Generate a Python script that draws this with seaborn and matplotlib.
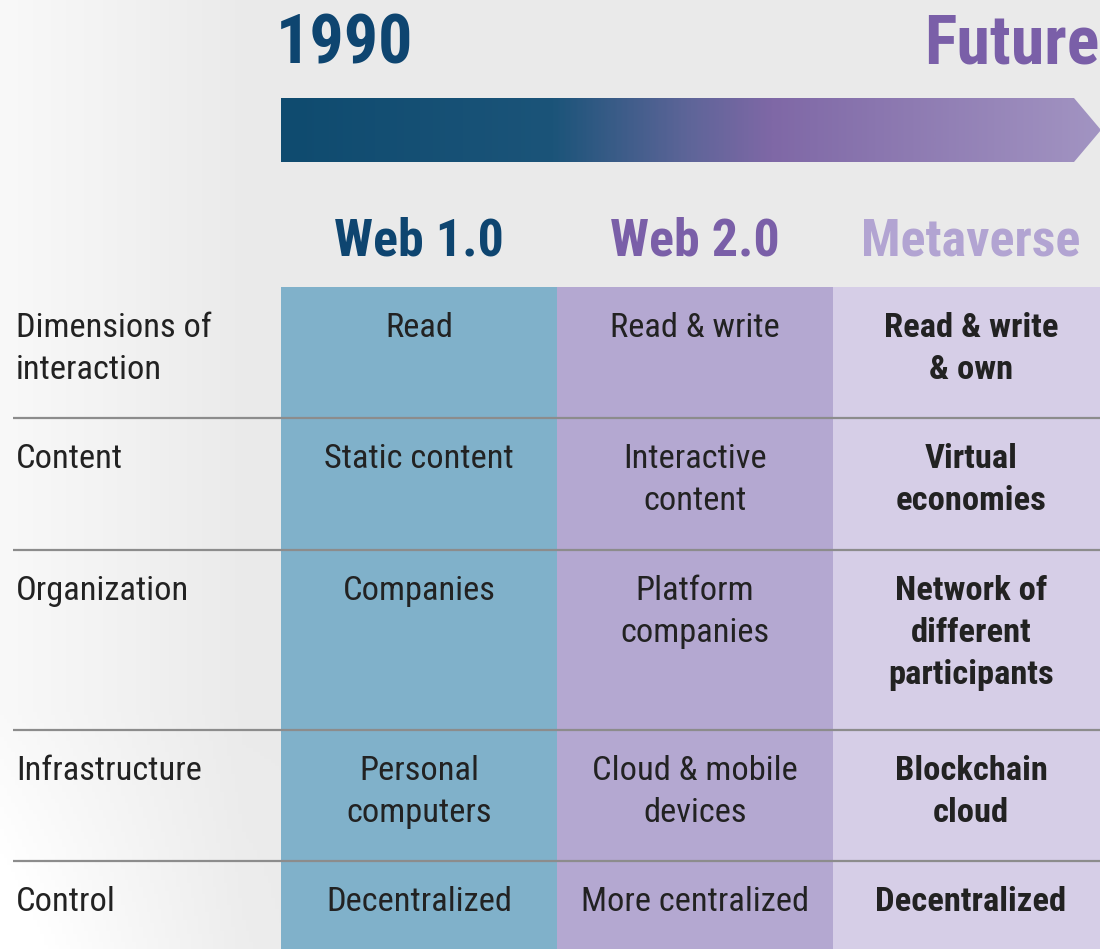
import numpy as np
import pandas as pd
import matplotlib
matplotlib.use("Agg")
import matplotlib.pyplot as plt
from matplotlib.colors import LinearSegmentedColormap
from matplotlib.patches import Polygon
from matplotlib import font_manager
import seaborn as sns

# table content
eras = ["Web 1.0", "Web 2.0", "Metaverse"]
era_colors = ["#80b1ca", "#b4a8d1", "#d6cee7"]
header_colors = ["#0e4570", "#7a5fa8", "#b2a4d2"]
row_labels = ["Dimensions of\ninteraction", "Content", "Organization", "Infrastructure", "Control"]
web1 = ["Read", "Static content", "Companies", "Personal\ncomputers", "Decentralized"]
web2 = ["Read & write", "Interactive\ncontent", "Platform\ncompanies", "Cloud & mobile\ndevices", "More centralized"]
meta = ["Read & write\n& own", "Virtual\neconomies", "Network of\ndifferent\nparticipants", "Blockchain\ncloud", "Decentralized"]
start_label = "1990"
end_label = "Future"

W, H = 1100, 949
ROW_TOPS = [287, 418, 550, 730, 861]
COL_LEFT, COL_W = 281, 276
LINE_PITCH = 42
TEXT = "#222222"

installed = {f.name for f in font_manager.fontManager.ttflist}
FONTS = [f for f in ["Roboto Condensed", "Liberation Sans Narrow", "Roboto"] if f in installed] + ["DejaVu Sans"]

sns.set_theme(style="white")
plt.rcParams["font.family"] = FONTS

fig = plt.figure(figsize=(W / 100, H / 100), dpi=100)

# background: light grey fading to white on the left and bottom-left
bg = fig.add_axes([0, 0, 1, 1])
xx = np.linspace(0, 1, 300)
yy = np.linspace(0, 1, 260)
gx, gy = np.meshgrid(xx, yy)
fade = np.clip(1 - gx / 0.22, 0, 1) * 0.7 + np.clip((gy - 0.75) / 0.25, 0, 1) * np.clip(1 - gx / 0.3, 0, 1) * 0.5
val = 0.92 + 0.08 * np.clip(fade, 0, 1)
bg.imshow(np.dstack([val, val, val]), extent=[0, W, H, 0], aspect="auto")
bg.set_xlim(0, W)
bg.set_ylim(H, 0)
bg.axis("off")

# era columns drawn as bars
bar_ax = fig.add_axes([COL_LEFT / W, 0, 3 * COL_W / W, (H - ROW_TOPS[0]) / H])
df = pd.DataFrame({"era": eras, "h": [1, 1, 1]})
sns.barplot(data=df, x="era", y="h", hue="era", palette=era_colors, width=1.0,
            legend=False, ax=bar_ax, linewidth=0, saturation=1)
bar_ax.set_xlim(-0.5, 2.5)
bar_ax.set_ylim(0, 1)
bar_ax.axis("off")

# overlay in pixel coordinates
ax = fig.add_axes([0, 0, 1, 1])
ax.set_xlim(0, W)
ax.set_ylim(H, 0)
ax.axis("off")
ax.patch.set_alpha(0)

# timeline arrow with gradient
arrow = Polygon([(281, 98), (1074, 98), (1101, 130), (1074, 162), (281, 162)],
                closed=True, facecolor="none", edgecolor="none")
ax.add_patch(arrow)
cmap = LinearSegmentedColormap.from_list(
    "tl", [(0, "#0f4b6f"), (0.33, "#1b5479"), (0.5, "#5f6599"), (0.6, "#7f68a6"), (1, "#a294c2")])
grad = ax.imshow(np.linspace(0, 1, 400)[None, :], cmap=cmap, extent=[281, 1101, 162, 98], aspect="auto")
grad.set_clip_path(arrow)
ax.set_xlim(0, W)
ax.set_ylim(H, 0)

ax.text(276, 63, start_label, fontsize=49, fontweight="bold", color=header_colors[0],
        ha="left", va="baseline")
ax.text(1099, 63, end_label, fontsize=49, fontweight="bold", color=header_colors[1],
        ha="right", va="baseline")

centers = [COL_LEFT + COL_W * (i + 0.5) for i in range(3)]
for name, cx, col in zip(eras, centers, header_colors):
    ax.text(cx, 255, name, fontsize=37.5, fontweight="bold", color=col, ha="center", va="baseline")

# row separators
for y in ROW_TOPS[1:]:
    ax.plot([13, W], [y, y], color="#8c8c8c", lw=1.6, solid_capstyle="butt")


def put(x, top, txt, ha="center", weight="normal"):
    for i, line in enumerate(txt.split("\n")):
        ax.text(x, top + 50 + i * LINE_PITCH, line, fontsize=24.8, color=TEXT,
                ha=ha, va="baseline", fontweight=weight)


for r, top in enumerate(ROW_TOPS):
    put(16, top, row_labels[r], ha="left")
    put(centers[0], top, web1[r])
    put(centers[1], top, web2[r])
    put(centers[2], top, meta[r], weight="bold")

fig.savefig("out.png", dpi=100)
